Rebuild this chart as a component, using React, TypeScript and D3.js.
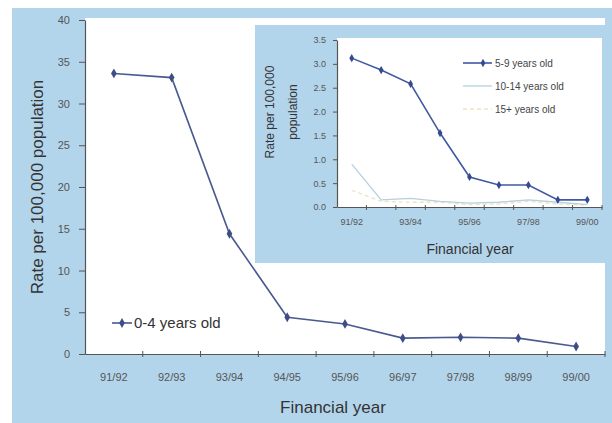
import * as d3 from "d3";
import * as React from "react";

// financial years
const years = ["91/92", "92/93", "93/94", "94/95", "95/96", "96/97", "97/98", "98/99", "99/00"];
const insetYearLabels = ["91/92", "93/94", "95/96", "97/98", "99/00"];

// rates per 100,000 population
const age0to4 = [33.6, 33.1, 14.4, 4.4, 3.6, 1.9, 2.0, 1.9, 0.9];
const age5to9 = [3.12, 2.87, 2.58, 1.55, 0.63, 0.46, 0.46, 0.15, 0.15];
const age10to14 = [0.9, 0.15, 0.18, 0.12, 0.08, 0.1, 0.15, 0.1, 0.05];
const age15plus = [0.35, 0.12, 0.1, 0.1, 0.05, 0.06, 0.12, 0.06, 0.04];

const mainYTicks = [0, 5, 10, 15, 20, 25, 30, 35, 40];
const insetYTicks = [0, 0.5, 1, 1.5, 2, 2.5, 3, 3.5];

const W = 612;
const H = 423;
const BLUE = "#b3d5ec";
const FONT = "'Liberation Sans', Arial, sans-serif";

export default function App() {
  const ref = React.useRef<SVGSVGElement>(null);

  React.useEffect(() => {
    const svg = d3.select(ref.current);
    svg.selectAll("*").remove();

    // outer panel
    svg.append("rect").attr("x", 12).attr("y", 8).attr("width", W - 12).attr("height", H - 8).attr("fill", BLUE);

    // ---------- main chart ----------
    const x = d3.scaleBand<string>().domain(years).range([85, 605]);
    const y = d3.scaleLinear().domain([0, 40]).range([354, 20]);

    svg.append("rect").attr("x", 85).attr("y", 18).attr("width", 520).attr("height", 336).attr("fill", "#fff");

    const yAxis = svg
      .append("g")
      .attr("transform", "translate(85,0)")
      .call(d3.axisLeft(y).tickValues(mainYTicks).tickSize(6).tickSizeOuter(0).tickPadding(9));
    const xAxis = svg
      .append("g")
      .attr("transform", "translate(0,354)")
      .call(
        d3
          .axisBottom(x)
          .tickSize(0)
          .tickPadding(19)
      );
    // tick marks between categories
    xAxis
      .selectAll("line.sep")
      .data(years)
      .enter()
      .append("line")
      .attr("class", "sep")
      .attr("x1", (d) => x(d)! + x.bandwidth())
      .attr("x2", (d) => x(d)! + x.bandwidth())
      .attr("y1", -3)
      .attr("y2", 3)
      .attr("stroke", "#555");

    [yAxis, xAxis].forEach((g) => {
      g.select(".domain").attr("stroke", "#555").attr("stroke-width", 1.2);
      g.selectAll(".tick line").attr("stroke", "#555");
      g.selectAll("text").attr("font-family", FONT).attr("font-size", 11).attr("fill", "#555");
    });

    const line = d3
      .line<number>()
      .x((_, i) => x(years[i])! + x.bandwidth() / 2)
      .y((d) => y(d));
    const mainColor = "#4a5990";
    svg.append("path").attr("d", line(age0to4)).attr("fill", "none").attr("stroke", mainColor).attr("stroke-width", 1.6);
    const diamond = d3.symbol().type(d3.symbolDiamond).size(28);
    svg
      .append("g")
      .selectAll("path")
      .data(age0to4)
      .enter()
      .append("path")
      .attr("d", diamond)
      .attr("transform", (d, i) => `translate(${x(years[i])! + x.bandwidth() / 2},${y(d)})`)
      .attr("fill", "#3f4d86");

    // legend
    svg.append("line").attr("x1", 112).attr("x2", 132).attr("y1", 323).attr("y2", 323).attr("stroke", mainColor).attr("stroke-width", 1.6);
    svg.append("path").attr("d", diamond).attr("transform", "translate(122,323)").attr("fill", "#3f4d86");
    svg
      .append("text")
      .attr("x", 134)
      .attr("y", 328)
      .attr("font-family", FONT)
      .attr("font-size", 15)
      .attr("fill", "#333")
      .text("0-4 years old");

    svg
      .append("text")
      .attr("transform", "translate(43,187) rotate(-90)")
      .attr("text-anchor", "middle")
      .attr("font-family", FONT)
      .attr("font-size", 17)
      .attr("fill", "#333")
      .text("Rate per 100,000 population");
    svg
      .append("text")
      .attr("x", 333)
      .attr("y", 413)
      .attr("text-anchor", "middle")
      .attr("font-family", FONT)
      .attr("font-size", 17)
      .attr("fill", "#333")
      .text("Financial year");

    // ---------- inset chart ----------
    svg.append("rect").attr("x", 255).attr("y", 25).attr("width", W - 255).attr("height", 238).attr("fill", BLUE);
    const ix = d3.scaleBand<string>().domain(years).range([337, 602]);
    const iy = d3.scaleLinear().domain([0, 3.5]).range([207, 40]);
    svg.append("rect").attr("x", 337).attr("y", 38).attr("width", 265).attr("height", 169).attr("fill", "#fff");

    const iyAxis = svg
      .append("g")
      .attr("transform", "translate(337,0)")
      .call(d3.axisLeft(iy).tickValues(insetYTicks).tickSize(4).tickSizeOuter(0).tickPadding(7));
    const ixAxis = svg
      .append("g")
      .attr("transform", "translate(0,207)")
      .call(
        d3
          .axisBottom(ix)
          .tickSize(0)
          .tickPadding(12)
          .tickFormat((d) => (insetYearLabels.includes(d) ? d : ""))
      );
    ixAxis
      .selectAll("line.sep")
      .data(years)
      .enter()
      .append("line")
      .attr("class", "sep")
      .attr("x1", (d) => ix(d)! + ix.bandwidth())
      .attr("x2", (d) => ix(d)! + ix.bandwidth())
      .attr("y1", -2)
      .attr("y2", 3)
      .attr("stroke", "#555");
    [iyAxis, ixAxis].forEach((g) => {
      g.select(".domain").attr("stroke", "#555").attr("stroke-width", 1.2);
      g.selectAll(".tick line").attr("stroke", "#555");
      g.selectAll("text").attr("font-family", FONT).attr("font-size", 9).attr("fill", "#555");
    });

    const iline = d3
      .line<number>()
      .x((_, i) => ix(years[i])! + ix.bandwidth() / 2)
      .y((d) => iy(d));

    const c15 = "#ebe4c0";
    const c10 = "#b5d0df";
    const c5 = "#4059a3";
    svg.append("path").attr("d", iline(age15plus)).attr("fill", "none").attr("stroke", c15).attr("stroke-width", 1.3).attr("stroke-dasharray", "4,3");
    svg.append("path").attr("d", iline(age10to14)).attr("fill", "none").attr("stroke", c10).attr("stroke-width", 1.3);
    svg.append("path").attr("d", iline(age5to9)).attr("fill", "none").attr("stroke", c5).attr("stroke-width", 1.6);
    const smallDiamond = d3.symbol().type(d3.symbolDiamond).size(20);
    svg
      .append("g")
      .selectAll("path")
      .data(age5to9)
      .enter()
      .append("path")
      .attr("d", smallDiamond)
      .attr("transform", (d, i) => `translate(${ix(years[i])! + ix.bandwidth() / 2},${iy(d)})`)
      .attr("fill", "#34498f");

    // inset legend
    const legendRows = [
      { label: "5-9 years old", color: c5, dash: null as string | null, marker: true },
      { label: "10-14 years old", color: c10, dash: null, marker: false },
      { label: "15+ years old", color: c15, dash: "4,3", marker: false },
    ];
    const lg = svg.append("g");
    legendRows.forEach((r, i) => {
      const ly = 63 + i * 23;
      lg.append("line")
        .attr("x1", 463)
        .attr("x2", 492)
        .attr("y1", ly)
        .attr("y2", ly)
        .attr("stroke", r.color)
        .attr("stroke-width", r.marker ? 1.6 : 1.3)
        .attr("stroke-dasharray", r.dash);
      if (r.marker) lg.append("path").attr("d", smallDiamond).attr("transform", `translate(483,${ly})`).attr("fill", "#34498f");
      lg.append("text")
        .attr("x", 495)
        .attr("y", ly + 3.5)
        .attr("font-family", FONT)
        .attr("font-size", 10)
        .attr("fill", "#444")
        .text(r.label);
    });

    svg
      .append("text")
      .attr("transform", "translate(274,112) rotate(-90)")
      .attr("text-anchor", "middle")
      .attr("font-family", FONT)
      .attr("font-size", 12)
      .attr("fill", "#333")
      .text("Rate per 100,000");
    svg
      .append("text")
      .attr("transform", "translate(297,112) rotate(-90)")
      .attr("text-anchor", "middle")
      .attr("font-family", FONT)
      .attr("font-size", 12)
      .attr("fill", "#333")
      .text("population");
    svg
      .append("text")
      .attr("x", 470)
      .attr("y", 254)
      .attr("text-anchor", "middle")
      .attr("font-family", FONT)
      .attr("font-size", 14)
      .attr("fill", "#333")
      .text("Financial year");
  }, []);

  return (
    <svg
      ref={ref}
      width={W}
      height={H}
      style={{ position: "absolute", left: 0, top: 0, background: "#fff" }}
    />
  );
}
